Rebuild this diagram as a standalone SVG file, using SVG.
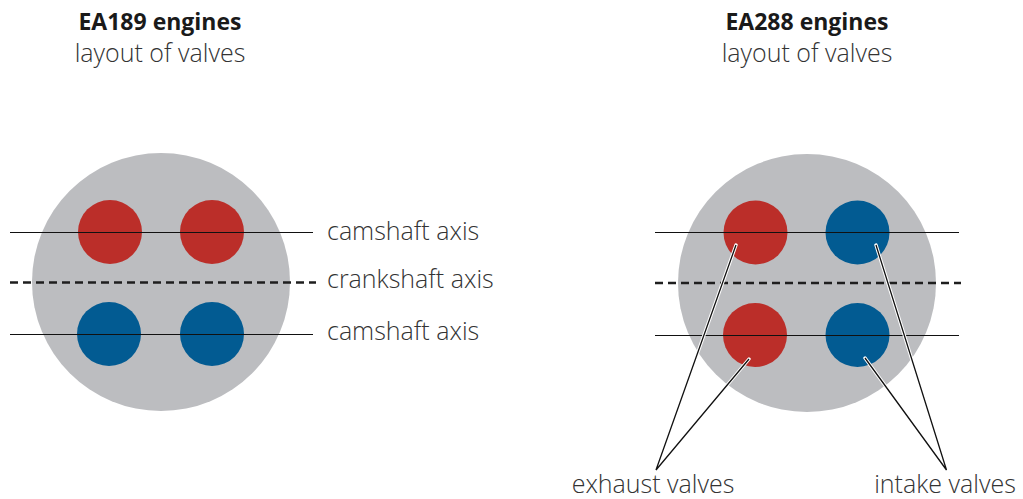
<svg xmlns="http://www.w3.org/2000/svg" width="1023" height="499" viewBox="0 0 1023 499">
<style>
.t{font-family:"Open Sans","Liberation Sans",sans-serif;font-size:25px;font-weight:300;fill:#333}
.b{font-family:"Open Sans","Liberation Sans",sans-serif;font-size:23px;font-weight:700;fill:#1a1a1a}
.head{fill:#bcbdc0}
.ex{fill:#bb2e29}
.in{fill:#025b92}
.axis{stroke:#111;stroke-width:1.2;fill:none}
.crank{stroke:#1e1e1e;stroke-width:2.6;stroke-dasharray:8 5;fill:none}
.halo{stroke:#fff;stroke-width:3.4;fill:none;stroke-linecap:round;stroke-linejoin:round}
.lead{stroke:#111;stroke-width:1.3;fill:none}
</style>
<rect width="1023" height="499" fill="#fff"/>
<g id="title-ea189">
<text class="b" x="160" y="30" text-anchor="middle">EA189 engines</text>
<text class="t" x="160" y="62" text-anchor="middle">layout of valves</text>
</g>
<g id="title-ea288">
<text class="b" x="807" y="30" text-anchor="middle">EA288 engines</text>
<text class="t" x="807" y="62" text-anchor="middle">layout of valves</text>
</g>
<g id="ea189-head">
<circle class="head" cx="161" cy="282" r="129"/>
<circle class="ex" cx="110" cy="232" r="32"/>
<circle class="ex" cx="212" cy="232" r="32"/>
<circle class="in" cx="109" cy="334" r="32"/>
<circle class="in" cx="212" cy="334" r="32"/>
</g>
<g id="ea288-head">
<circle class="head" cx="807" cy="283" r="129"/>
<circle class="ex" cx="755.5" cy="232.5" r="32"/>
<circle class="in" cx="857.5" cy="232.5" r="32"/>
<circle class="ex" cx="755" cy="335" r="32"/>
<circle class="in" cx="857.5" cy="335" r="32"/>
</g>
<g id="connectors">
<line class="axis" x1="10" y1="232.5" x2="313" y2="232.5"/>
<line class="crank" x1="10" y1="282.5" x2="316" y2="282.5"/>
<line class="axis" x1="10" y1="334.5" x2="313" y2="334.5"/>
<line class="axis" x1="655" y1="232.5" x2="959" y2="232.5"/>
<line class="crank" x1="655" y1="283" x2="961" y2="283"/>
<line class="axis" x1="655" y1="335.5" x2="959" y2="335.5"/>
<polyline class="halo" points="736,245 656,470 749,359"/>
<polyline class="halo" points="876,245 946.5,470 865,358"/>
<polyline class="lead" points="736,245 656,470 749,359"/>
<polyline class="lead" points="876,245 946.5,470 865,358"/>
</g>
<g id="labels">
<text class="t" x="327" y="240">camshaft axis</text>
<text class="t" x="327" y="288">crankshaft axis</text>
<text class="t" x="327" y="340">camshaft axis</text>
<text class="t" x="653" y="493" text-anchor="middle">exhaust valves</text>
<text class="t" x="945" y="493" text-anchor="middle">intake valves</text>
</g>
</svg>
